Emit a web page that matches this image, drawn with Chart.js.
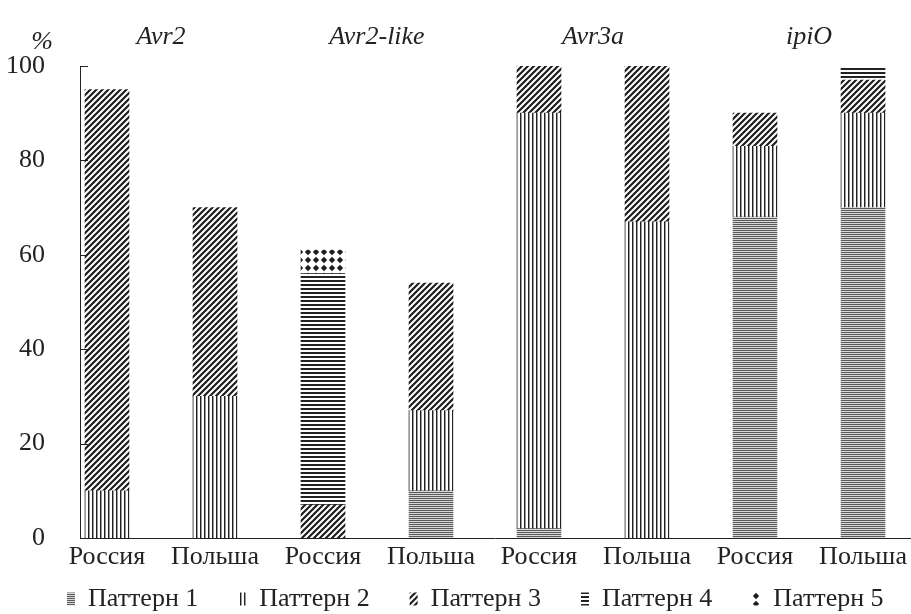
<!DOCTYPE html>
<html>
<head>
<meta charset="utf-8">
<script src="https://cdn.jsdelivr.net/npm/chart.js@4"></script>
<style>
  body { margin: 0; background: #fff; }
  #wrap { width: 911px; height: 614px; }
</style>
</head>
<body>
<div id="wrap"><canvas id="myChart"></canvas></div>
<script>
// bars: country per gene
var categories = ["Россия", "Польша", "Россия", "Польша", "Россия", "Польша", "Россия", "Польша"];
var genes = ["Avr2", "Avr2-like", "Avr3a", "ipiO"];
var yTicks = [0, 20, 40, 60, 80, 100];

// each pattern: [from, to] in % for each bar, null = absent
var pattern1 = [null, null, null, [0, 10], [0, 2], null, [0, 68], [0, 70]];
var pattern2 = [[0, 10], [0, 30], null, [10, 27], [2, 90], [0, 67], [68, 83], [70, 90]];
var pattern3 = [[10, 95], [30, 70], [0, 7], [27, 54], [90, 100], [67, 100], [83, 90], [90, 97]];
var pattern4 = [null, null, [7, 56], null, null, null, null, [97, 100]];
var pattern5 = [null, null, [56, 61], null, null, null, null, null];

var seriesNames = ["Паттерн 1", "Паттерн 2", "Паттерн 3", "Паттерн 4", "Паттерн 5"];

function tile(w, h, draw) {
  var c = document.createElement("canvas");
  c.width = w; c.height = h;
  var g = c.getContext("2d");
  g.fillStyle = "#fff";
  g.fillRect(0, 0, w, h);
  draw(g);
  return document.createElement("canvas").getContext("2d").createPattern(c, "repeat");
}

var fills = [
  tile(2, 2, function (g) { g.fillStyle = "#5a5a5a"; g.fillRect(0, 0, 2, 1); g.fillStyle = "#d8d8d8"; g.fillRect(0, 1, 2, 1); }),
  tile(4, 4, function (g) { g.fillStyle = "#222"; g.fillRect(0, 0, 1, 4); g.fillStyle = "#999"; g.fillRect(1, 0, 1, 4); }),
  tile(6, 6, function (g) {
    g.strokeStyle = "#1e1e1e"; g.lineWidth = 2.2;
    g.beginPath();
    g.moveTo(-1, 7); g.lineTo(7, -1);
    g.moveTo(-4, 4); g.lineTo(4, -4);
    g.moveTo(2, 10); g.lineTo(10, 2);
    g.stroke();
  }),
  tile(4, 4, function (g) { g.fillStyle = "#222"; g.fillRect(0, 0, 4, 2); }),
  tile(8, 8, function (g) {
    g.fillStyle = "#1e1e1e";
    g.beginPath();
    g.moveTo(4, 0.8); g.lineTo(7.2, 4); g.lineTo(4, 7.2); g.lineTo(0.8, 4); g.closePath();
    g.fill();
  })
];

function toPoints(ranges) {
  var out = [];
  ranges.forEach(function (r, i) { if (r) out.push({ x: i, y: r }); });
  return out;
}

var allPatterns = [pattern1, pattern2, pattern3, pattern4, pattern5];
var datasets = allPatterns.map(function (p, k) {
  return {
    label: seriesNames[k],
    data: toPoints(p),
    backgroundColor: fills[k],
    borderWidth: 0,
    barThickness: 44,
    grouped: false
  };
});

Chart.defaults.font.family = "'Liberation Serif', 'Times New Roman', serif";
Chart.defaults.font.size = 26;
Chart.defaults.color = "#222";

var legendPad = 40;

var innerTicks = {
  id: "innerTicks",
  // legend is wide-spaced but sits tight under the axis labels
  afterLayout: function (chart) {
    chart.legend.top = 546;
    chart.legend.left = 67 - legendPad;
    chart.legend.right = chart.width + 60;
  },
  afterDraw: function (chart) {
    var ctx = chart.ctx, y = chart.scales.y, a = chart.chartArea;
    ctx.save();
    ctx.strokeStyle = "#222";
    ctx.lineWidth = 1;
    yTicks.forEach(function (v) {
      var py = Math.round(y.getPixelForValue(v)) + 0.5;
      ctx.beginPath();
      ctx.moveTo(a.left, py);
      ctx.lineTo(a.left + 8, py);
      ctx.stroke();
    });
    ctx.font = "italic 26px 'Liberation Serif'";
    ctx.fillStyle = "#222";
    ctx.textAlign = "center";
    ctx.textBaseline = "middle";
    ctx.fillText("%", a.left - 38, a.top - 24);
    ctx.restore();
  }
};

function drawChart() {
  new Chart("myChart", {
    type: "bar",
    data: { datasets: datasets },
    plugins: [innerTicks],
    options: {
      responsive: true,
      maintainAspectRatio: false,
      animation: false,
      layout: { padding: { top: 0, right: 1, left: 0, bottom: 0 } },
      plugins: {
        legend: {
          position: "bottom",
          align: "start",
          maxHeight: 40,
          labels: {
            boxWidth: 8,
            boxHeight: 13,
            padding: legendPad,
            color: "#222",
            font: { size: 26 }
          }
        },
        tooltip: { enabled: false }
      },
      scales: {
        x: {
          type: "linear",
          offset: false,
          min: -0.25,
          max: 7.435,
          grid: { display: false, drawTicks: false },
          border: { display: true, color: "#222", width: 1 },
          afterFit: function (s) { s.height = 36; },
          afterBuildTicks: function (s) { s.ticks = categories.map(function (c, i) { return { value: i }; }); },
          ticks: {
            autoSkip: false,
            maxRotation: 0,
            padding: 4,
            callback: function (v) { return categories[v]; }
          }
        },
        x2: {
          type: "linear",
          position: "top",
          offset: false,
          min: -0.25,
          max: 7.435,
          grid: { display: false, drawTicks: false },
          border: { display: false },
          afterFit: function (s) { s.height = 66; },
          afterBuildTicks: function (s) { s.ticks = genes.map(function (g, i) { return { value: i * 2 + 0.5 }; }); },
          ticks: {
            autoSkip: false,
            maxRotation: 0,
            padding: 13,
            font: { style: "italic" },
            callback: function (v) { return genes[(v - 0.5) / 2]; }
          }
        },
        y: {
          min: 0,
          max: 100,
          grid: { display: false, drawTicks: false },
          border: { display: true, color: "#222", width: 1 },
          afterFit: function (s) { s.width = 80; },
          afterBuildTicks: function (s) { s.ticks = yTicks.map(function (v) { return { value: v }; }); },
          ticks: { padding: 35 }
        }
      }
    }
  });
}

Promise.all([
  document.fonts.load('26px "Liberation Serif"'),
  document.fonts.load('italic 26px "Liberation Serif"')
]).then(drawChart, drawChart);
</script>
</body>
</html>
